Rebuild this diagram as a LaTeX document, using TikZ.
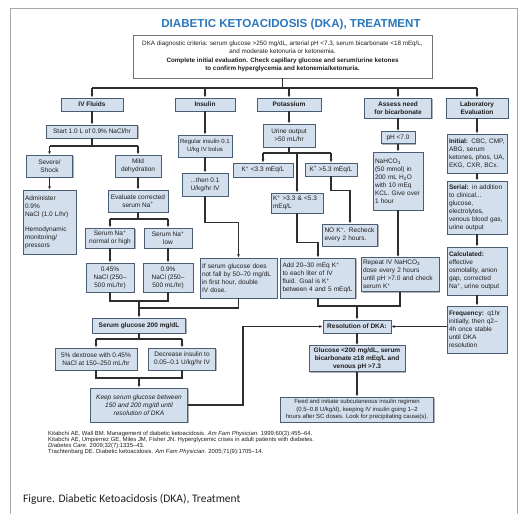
\documentclass[tikz,border=0pt]{standalone}
\usepackage{fontspec}
\setmainfont{Liberation Sans}
\newfontfamily\capfont{Carlito}
\usetikzlibrary{arrows.meta,shadows}

\definecolor{boxfill}{HTML}{D3DFED}
\definecolor{boxedge}{HTML}{4A5D75}
\definecolor{wire}{HTML}{2E2E2E}
\definecolor{titleblue}{HTML}{2B78BE}
\definecolor{inktext}{HTML}{1E1E1E}
\definecolor{framegray}{HTML}{A8A8A8}

\tikzset{
  bx/.style={draw=boxedge, fill=boxfill, line width=0.8pt, text=inktext,
    font=\fontsize{6.5}{8}\selectfont, inner xsep=2pt, inner ysep=1pt, align=center,
    drop shadow={shadow xshift=1.3pt, shadow yshift=-1.3pt, fill=black!60, opacity=0.5}},
  hd/.style={bx, font=\fontsize{6.5}{8}\selectfont\bfseries},
  small/.style={font=\fontsize{6}{7.6}\selectfont},
  sz/.style 2 args={minimum width=#1pt, minimum height=#2pt},
  lt/.style={align=left, text width=#1pt},
  ln/.style={draw=wire, line width=1.1pt},
  arr/.style={ln, -{Latex[length=3.2pt,width=2.8pt]}},
}

\begin{document}
\begin{tikzpicture}[x=1pt, y=-1pt]
\useasboundingbox (0,0) rectangle (521,514);
\fill[white] (0,0) rectangle (521,514);

% page frame
\draw[framegray, line width=0.7pt] (10,514) -- (10,8) -- (517,8) -- (517,514);

% heading
\node[text=titleblue, font=\fontsize{11.6}{12}\selectfont\bfseries] (title) at (291,25)
  {DIABETIC KETOACIDOSIS (DKA), TREATMENT};

% criteria box
\node[draw=black!55, fill=white, line width=0.8pt, sz={299}{43}, align=center, text=inktext,
  font=\fontsize{6.3}{8.5}\selectfont, inner sep=1pt,
  drop shadow={shadow xshift=1.3pt, shadow yshift=-1.3pt, fill=black!60, opacity=0.5}]
  (top) at (282.5,56.5)
  {DKA diagnostic criteria: serum glucose >250 mg/dL, arterial pH <7.3, serum bicarbonate <18 mEq/L,\\
   and moderate ketonuria or ketonemia.\\
   \textbf{Complete initial evaluation. Check capillary glucose and serum/urine ketones}\\
   \textbf{to confirm hyperglycemia and ketonemia/ketonuria.}};

% category headers
\node[hd, sz={62}{13}] (ivf) at (92,104.5) {IV Fluids};
\node[hd, sz={60}{13}] (ins) at (205,104.5) {Insulin};
\node[hd, sz={64}{13}] (pot) at (289,104.5) {Potassium};
\node[hd, sz={67}{20}] (ass) at (398,108) {Assess need\\for bicarbonate};
\node[hd, sz={62}{20}] (lab) at (477,108) {Laboratory\\Evaluation};

% IV fluids branch
\node[bx, sz={91}{13}] (start) at (92,131.5) {Start 1.0 L of 0.9\% NaCl/hr};
\node[bx, sz={46}{22}] (severe) at (49.5,166) {Severe/\\Shock};
\node[bx, sz={46}{22}] (mild) at (138,166) {Mild\\dehydration};
\node[bx, sz={53}{64}, lt={49}] (admin) at (49.5,222)
  {Administer\\0.9\%\\NaCl (1.0 L/hr)\\[7pt]Hemodynamic\\monitoring/\\pressors};
\node[bx, sz={60}{22}] (eval) at (138,201) {Evaluate corrected\\serum Na\textsuperscript{+}};
\node[bx, sz={49}{20}] (naN) at (110,238) {Serum Na\textsuperscript{+}\\normal or high};
\node[bx, sz={48}{20}] (naL) at (168,238) {Serum Na\textsuperscript{+}\\low};
\node[bx, sz={48}{29}] (c045) at (110,277.5) {0.45\%\\NaCl (250–\\500 mL/hr)};
\node[bx, sz={50}{29}] (c09) at (168,277.5) {0.9\%\\NaCl (250–\\500 mL/hr)};
\node[hd, sz={93}{15}] (sg200) at (139,325.5) {Serum glucose 200 mg/dL};
\node[bx, sz={82}{22}] (dex) at (96,359) {5\% dextrose with 0.45\%\\NaCl at 150–250 mL/hr};
\node[bx, sz={67}{22}] (dec) at (182,359) {Decrease insulin to\\0.05–0.1 U/kg/hr IV};
\node[bx, sz={97}{34}, font=\fontsize{6.5}{8}\selectfont\itshape] (keep) at (139,405)
  {Keep serum glucose between\\150 and 200 mg/dl until\\resolution of DKA};

% insulin branch
\node[bx, small, sz={54}{22}] (reg) at (205,146) {Regular insulin 0.1\\U/kg IV bolus};
\node[bx, sz={46}{23}] (then) at (205,184.5) {...then 0.1\\U/kg/hr IV};
\node[bx, sz={77}{40}, lt={73}] (ifb) at (238.5,278)
  {If serum glucose does\\not fall by 50–70 mg/dL\\in first hour, double\\IV dose.};

% potassium branch
\node[bx, sz={52}{23}] (urine) at (289,135.5) {Urine output\\>50 mL/hr};
\node[bx, sz={60}{14}] (klow) at (263,170) {K\textsuperscript{+} <3.3 mEq/L};
\node[bx, sz={52}{13}] (khigh) at (331,169.5) {K\textsuperscript{+} >5.3 mEq/L};
\node[bx, sz={52}{20}, lt={48}] (kmid) at (297,203) {K\textsuperscript{+} >3.3 \& <5.3\\mEq/L};
\node[bx, sz={55}{22}, lt={51}] (nok) at (350,235) {NO K\textsuperscript{+}. Recheck\\every 2 hours.};
\node[bx, sz={75}{40}, lt={71}] (addk) at (318,278)
  {Add 20–30 mEq K\textsuperscript{+}\\to each liter of IV\\fluid. Goal is K\textsuperscript{+}\\between 4 and 5 mEq/L};

% bicarbonate branch
\node[bx, sz={34}{12}] (ph) at (398,137.5) {pH <7.0};
\node[bx, sz={50}{58}, lt={46}] (nahco) at (398,181)
  {NaHCO\textsubscript{3}\\(50 mmol) in\\200 mL H\textsubscript{2}O\\with 10 mEq\\KCL. Give over\\1 hour};
\node[bx, sz={78}{34}, lt={74}] (rep) at (400,274.5)
  {Repeat IV NaHCO\textsubscript{3}\\dose every 2 hours\\until pH >7.0 and check\\serum K\textsuperscript{+}};

% laboratory branch
\node[bx, sz={60}{39}, lt={56}] (init) at (477,153.5)
  {\textbf{Initial:} CBC, CMP,\\ABG, serum\\ketones, phos, UA,\\EKG, CXR, BCx.};
\node[bx, sz={60}{53}, lt={56}] (serial) at (477,207.5)
  {\textbf{Serial:} in addition\\to clinical...\\glucose,\\electrolytes,\\venous blood gas,\\urine output};
\node[bx, sz={60}{48}, lt={56}] (calc) at (477,271)
  {\textbf{Calculated:}\\effective\\osmolality, anion\\gap, corrected\\Na\textsuperscript{+}, urine output};
\node[bx, sz={60}{47}, lt={56}] (freq) at (477,329.5)
  {\textbf{Frequency:} q1hr\\initially, then q2–\\4h once stable\\until DKA\\resolution};

% resolution
\node[hd, sz={68}{13}] (res) at (357,326.5) {Resolution of DKA:};
\node[hd, sz={96}{26}] (glu) at (357,358.5)
  {Glucose <200 mg/dL, serum\\bicarbonate ≥18 mEq/L and\\venous pH >7.3};
\node[bx, small, sz={153}{25}] (feed) at (357,409.5)
  {Feed and initiate subcutaneous insulin regimen\\(0.5–0.8 U/kg/d), keeping IV insulin going 1–2\\hours after SC doses. Look for precipitating cause(s).};

% ---- connectors ----
\coordinate (busL) at (92,88);
\coordinate (busR) at (477,88);
\draw[ln] (top.south) -- (top.south |- busL);
\draw[ln] (busL) -- (busR);
\foreach \n in {ivf,ins,pot,ass,lab} \draw[arr] (\n |- busL) -- (\n.north);

% IV fluids
\draw[arr] (ivf) -- (start);
\coordinate (s1) at (92,146);
\draw[ln] (start.south) -- (s1);
\draw[ln] (severe |- s1) -- (mild |- s1);
\draw[arr] (severe |- s1) -- (severe.north);
\draw[arr] (mild |- s1) -- (mild.north);
\draw[arr] (severe) -- (admin);
\draw[arr] (mild) -- (eval);
\coordinate (s2) at (138,219);
\draw[ln] (eval.south) -- (s2);
\draw[ln] (naN |- s2) -- (naL |- s2);
\draw[arr] (naN |- s2) -- (naN.north);
\draw[arr] (naL |- s2) -- (naL.north);
\draw[arr] (naN) -- (c045);
\draw[arr] (naL) -- (c09);
\coordinate (m1) at (139,301);
\coordinate (m2) at (139,308);
\draw[ln] (c045.south) |- (m1);
\draw[ln] (c09.south) |- (m1);
\draw[ln] (ifb.south) |- (m2);
\draw[arr] (m1) -- (sg200.north);
\coordinate (s3) at (139,339);
\draw[ln] (sg200.south) -- (s3);
\draw[ln] (dex |- s3) -- (dec |- s3);
\draw[arr] (dex |- s3) -- (dex.north);
\draw[arr] (dec |- s3) -- (dec.north);
\coordinate (m3) at (139,378);
\draw[ln] (dex.south) |- (m3);
\draw[ln] (dec.south) |- (m3);
\draw[arr] (m3) -- (keep.north);
\coordinate (k1) at (243,0);
\draw[arr] (keep.east) -| (k1 |- res.west) -- (res.west);

% insulin
\draw[arr] (ins) -- (reg);
\draw[arr] (reg) -- (then);
\draw[arr] (then.south) -- ++(0,26) -| (ifb.north);

% potassium
\draw[arr] (pot) -- (urine);
\coordinate (s4) at (289,153);
\draw[ln] (urine.south) -- (s4);
\draw[ln] (klow |- s4) -- (khigh |- s4);
\draw[arr] (klow |- s4) -- (klow.north);
\draw[arr] (kmid |- s4) -- (kmid.north);
\draw[arr] (khigh |- s4) -- (khigh.north);
\draw[arr] (khigh.south) -- ++(0,14) -| (nok.north);
\draw[arr] (kmid.south) -- ++(0,29) -| (addk.north);

% merge into resolution
\coordinate (m4) at (357,306);
\draw[ln] (addk.south) |- (m4);
\draw[ln] (rep.south) |- (m4);
\draw[arr] (m4) -- (res.north);

% bicarbonate
\draw[arr] (ass) -- (ph);
\draw[arr] (ph) -- (nahco);
\draw[arr] (nahco.south) -- (nahco.south |- rep.north);

% laboratory
\draw[arr] (lab) -- (init);
\draw[arr] (init) -- (serial);
\draw[arr] (serial) -- (calc);
\draw[arr] (calc) -- (freq);
\draw[arr] (freq.west |- res.east) -- (res.east);

% resolution chain
\draw[arr] (res) -- (glu);
\draw[arr] (glu) -- (feed);

% references
\node[anchor=north west, align=left, inner sep=0pt, text=inktext,
  font=\fontsize{5.9}{5.9}\selectfont] (refs) at (48,431)
  {Kitabchi AE, Wall BM. Management of diabetic ketoacidosis. \textit{Am Fam Physician.} 1999;60(2):455–64.\\
   Kitabchi AE, Umpierrez GE, Miles JM, Fisher JN. Hyperglycemic crises in adult patients with diabetes.\\
   \textit{Diabetes Care.} 2009;32(7):1335–43.\\
   Trachtenbarg DE. Diabetic ketoacidosis. \textit{Am Fam Physician.} 2005;71(9):1705–14.};

% caption
\node[anchor=west, inner sep=0pt, text=inktext, font=\capfont\fontsize{11.5}{13}\selectfont]
  (caption) at (23,499) {Figure. Diabetic Ketoacidosis (DKA), Treatment};
\end{tikzpicture}
\end{document}
